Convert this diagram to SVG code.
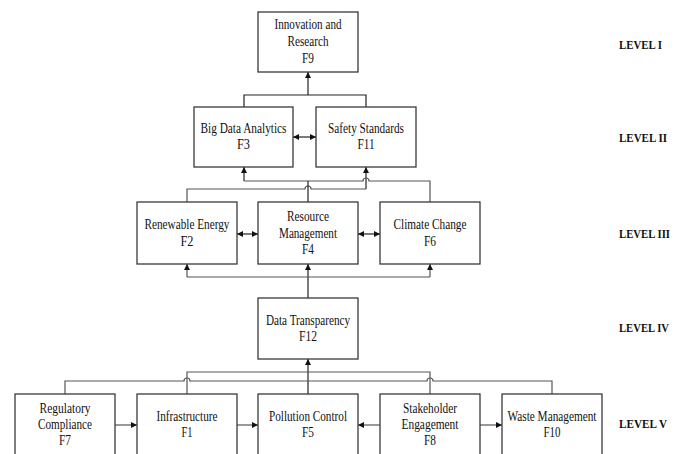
<svg xmlns="http://www.w3.org/2000/svg" width="683" height="454" viewBox="0 0 683 454">
<style>
.box{fill:#fff;stroke:#3a3a3a;stroke-width:1.3}
.t{font-family:"Liberation Serif","Times New Roman",serif;font-size:14px;fill:#111;text-anchor:middle}
.lv{font-family:"Liberation Serif","Times New Roman",serif;font-size:13px;font-weight:bold;fill:#111}
.c{fill:none;stroke:#222;stroke-width:1.2}
.g{fill:none;stroke:#555;stroke-width:1.2}
</style>
<defs>
<marker id="ah" markerUnits="userSpaceOnUse" markerWidth="7" markerHeight="6" refX="6" refY="3" orient="auto-start-reverse">
<path d="M0,0 L6,3 L0,6 z" fill="#111"/>
</marker>
</defs>
<rect width="683" height="454" fill="#fff"/>
<g id="connectors">
<path class="c" d="M308,95 V72" marker-end="url(#ah)"/>
<path class="c" d="M244,107 V95 H366 V107"/>
<path class="c" d="M293,137 H316" marker-start="url(#ah)" marker-end="url(#ah)"/>
<path class="c" d="M244,181 V167" marker-end="url(#ah)"/>
<path class="c" d="M366,189 V167" marker-end="url(#ah)"/>
<path class="g" d="M244,181 H363 A3,3 0 0 1 369,181 H430 V202"/>
<path class="g" d="M187,202 V189 H305 A3,3 0 0 1 311,189 H366"/>
<path class="c" d="M308,202 V181"/>
<path class="c" d="M237,234 H258" marker-start="url(#ah)" marker-end="url(#ah)"/>
<path class="c" d="M358,234 H380" marker-start="url(#ah)" marker-end="url(#ah)"/>
<path class="c" d="M308,298 V264" marker-end="url(#ah)"/>
<path class="g" d="M187,277 H430"/>
<path class="g" d="M187,277 V264" marker-end="url(#ah)"/>
<path class="g" d="M430,277 V264" marker-end="url(#ah)"/>
<path class="c" d="M308,394 V359" marker-end="url(#ah)"/>
<path class="g" d="M187,394 V372 H430 V394"/>
<path class="g" d="M65,394 V381 H184 A3,3 0 0 1 190,381 H427 A3,3 0 0 1 433,381 H552 V394"/>
<path class="g" d="M115,425 H137" marker-end="url(#ah)"/>
<path class="g" d="M237,425 H258" marker-end="url(#ah)"/>
<path class="g" d="M380,425 H358" marker-end="url(#ah)"/>
<path class="g" d="M480,425 H502" marker-end="url(#ah)"/>
</g>
<g id="F9">
<rect class="box" x="258" y="12" width="100" height="60"/>
<text class="t" x="308" y="29" textLength="67" lengthAdjust="spacingAndGlyphs">Innovation and</text>
<text class="t" x="308" y="46" textLength="41" lengthAdjust="spacingAndGlyphs">Research</text>
<text class="t" x="308" y="62.5" textLength="12" lengthAdjust="spacingAndGlyphs">F9</text>
</g>
<g id="F3">
<rect class="box" x="194" y="107" width="99" height="60"/>
<text class="t" x="243.5" y="133" textLength="86" lengthAdjust="spacingAndGlyphs">Big Data Analytics</text>
<text class="t" x="243.5" y="149" textLength="13" lengthAdjust="spacingAndGlyphs">F3</text>
</g>
<g id="F11">
<rect class="box" x="316" y="107" width="100" height="60"/>
<text class="t" x="366" y="133" textLength="76" lengthAdjust="spacingAndGlyphs">Safety Standards</text>
<text class="t" x="366" y="149" textLength="17" lengthAdjust="spacingAndGlyphs">F11</text>
</g>
<g id="F2">
<rect class="box" x="137" y="202" width="100" height="62"/>
<text class="t" x="187" y="229" textLength="85" lengthAdjust="spacingAndGlyphs">Renewable Energy</text>
<text class="t" x="187" y="246" textLength="13" lengthAdjust="spacingAndGlyphs">F2</text>
</g>
<g id="F4">
<rect class="box" x="258" y="202" width="100" height="62"/>
<text class="t" x="308" y="221" textLength="42" lengthAdjust="spacingAndGlyphs">Resource</text>
<text class="t" x="308" y="237.5" textLength="58" lengthAdjust="spacingAndGlyphs">Management</text>
<text class="t" x="308" y="253.5" textLength="12" lengthAdjust="spacingAndGlyphs">F4</text>
</g>
<g id="F6">
<rect class="box" x="380" y="202" width="100" height="62"/>
<text class="t" x="430" y="229" textLength="73" lengthAdjust="spacingAndGlyphs">Climate Change</text>
<text class="t" x="430" y="246" textLength="12" lengthAdjust="spacingAndGlyphs">F6</text>
</g>
<g id="F12">
<rect class="box" x="258" y="298" width="100" height="61"/>
<text class="t" x="308" y="325" textLength="84" lengthAdjust="spacingAndGlyphs">Data Transparency</text>
<text class="t" x="308" y="341" textLength="18" lengthAdjust="spacingAndGlyphs">F12</text>
</g>
<g id="F7">
<rect class="box" x="15" y="394" width="100" height="62"/>
<text class="t" x="65" y="412.5" textLength="51" lengthAdjust="spacingAndGlyphs">Regulatory</text>
<text class="t" x="65" y="429" textLength="54" lengthAdjust="spacingAndGlyphs">Compliance</text>
<text class="t" x="65" y="445" textLength="12" lengthAdjust="spacingAndGlyphs">F7</text>
</g>
<g id="F1">
<rect class="box" x="137" y="394" width="100" height="62"/>
<text class="t" x="187" y="420.5" textLength="61" lengthAdjust="spacingAndGlyphs">Infrastructure</text>
<text class="t" x="187" y="437" textLength="11" lengthAdjust="spacingAndGlyphs">F1</text>
</g>
<g id="F5">
<rect class="box" x="258" y="394" width="100" height="62"/>
<text class="t" x="308" y="420.5" textLength="78" lengthAdjust="spacingAndGlyphs">Pollution Control</text>
<text class="t" x="308" y="437" textLength="12" lengthAdjust="spacingAndGlyphs">F5</text>
</g>
<g id="F8">
<rect class="box" x="380" y="394" width="100" height="62"/>
<text class="t" x="430" y="412.5" textLength="54" lengthAdjust="spacingAndGlyphs">Stakeholder</text>
<text class="t" x="430" y="429" textLength="57" lengthAdjust="spacingAndGlyphs">Engagement</text>
<text class="t" x="430" y="445" textLength="12" lengthAdjust="spacingAndGlyphs">F8</text>
</g>
<g id="F10">
<rect class="box" x="502" y="394" width="100" height="62"/>
<text class="t" x="552" y="420.5" textLength="89" lengthAdjust="spacingAndGlyphs">Waste Management</text>
<text class="t" x="552" y="437" textLength="17" lengthAdjust="spacingAndGlyphs">F10</text>
</g>
<g id="levels">
<text class="lv" x="619" y="49" textLength="43" lengthAdjust="spacingAndGlyphs">LEVEL I</text>
<text class="lv" x="619" y="142" textLength="48" lengthAdjust="spacingAndGlyphs">LEVEL II</text>
<text class="lv" x="619" y="238" textLength="51" lengthAdjust="spacingAndGlyphs">LEVEL III</text>
<text class="lv" x="619" y="332" textLength="50" lengthAdjust="spacingAndGlyphs">LEVEL IV</text>
<text class="lv" x="619" y="428" textLength="48" lengthAdjust="spacingAndGlyphs">LEVEL V</text>
</g>
</svg>
